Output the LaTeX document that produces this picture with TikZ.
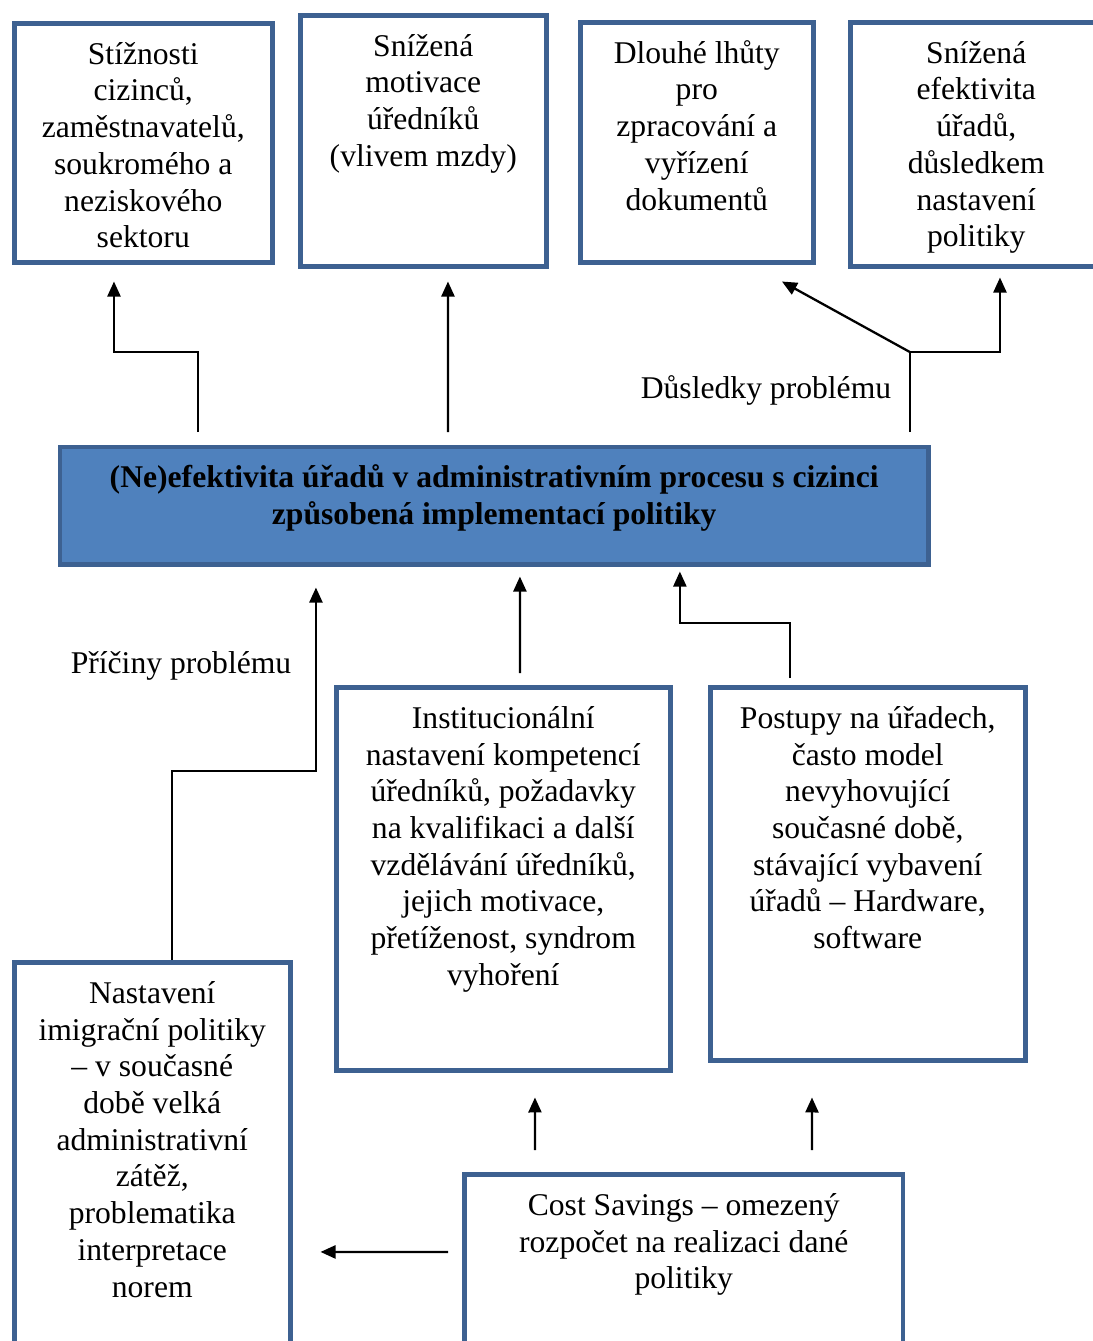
\documentclass[tikz,border=0pt]{standalone}
\usepackage{fontspec}
\setmainfont{Liberation Serif}
\usetikzlibrary{arrows.meta,positioning,calc}
\definecolor{boxline}{HTML}{3D6191}
\definecolor{corefill}{HTML}{4F81BD}
\newcommand{\boxtext}[3]{\parbox[c][#2][t]{#1}{\centering\rule{0pt}{0.82cm}#3}}
\tikzset{
  box/.style={rectangle,draw=boxline,line width=2.6pt,inner sep=0pt,anchor=north west,
    font=\fontsize{18pt}{20.9pt}\selectfont},
  corebox/.style={box,fill=corefill},
  lbl/.style={font=\fontsize{18pt}{20.9pt}\selectfont,inner sep=0pt},
  link/.style={line width=1.3pt},
  arrow/.style={link,-{Triangle[length=0.3cm,width=0.26cm]}},
}

\begin{document}
\begin{tikzpicture}[x=0.02cm,y=-0.02cm]
\useasboundingbox (0,0) rectangle (1092,1341);
% consequences
\node[box] (stiz) at (12,21) {\boxtext{5.16cm}{4.78cm}{Stížnosti\\cizinců,\\zaměstnavatelů,\\soukromého a\\neziskového\\sektoru}};
\node[box] (motiv) at (298,13) {\boxtext{4.92cm}{5.02cm}{Snížená\\motivace\\úředníků\\(vlivem mzdy)}};
\node[box] (lhuty) at (578,20) {\boxtext{4.66cm}{4.80cm}{Dlouhé lhůty\\pro\\zpracování a\\vyřízení\\dokumentů}};
\node[box] (efekt) at (848,20) {\boxtext{5.04cm}{4.88cm}{Snížená\\efektivita\\úřadů,\\důsledkem\\nastavení\\politiky}};
% the problem
\node[corebox] (ineff) at (57.5,444.5) {\boxtext{17.38cm}{2.36cm}{\bfseries (Ne)efektivita úřadů v administrativním procesu s cizinci\\způsobená implementací politiky}};
% causes
\node[box] (inst) at (334,685) {\boxtext{6.68cm}{7.66cm}{Institucionální\\nastavení kompetencí\\úředníků, požadavky\\na kvalifikaci a další\\vzdělávání úředníků,\\jejich motivace,\\přetíženost, syndrom\\vyhoření}};
\node[box] (post) at (708,685) {\boxtext{6.30cm}{7.46cm}{Postupy na úřadech,\\často model\\nevyhovující\\současné době,\\stávající vybavení\\úřadů – Hardware,\\software}};
\node[box] (nast) at (12,960) {\boxtext{5.52cm}{8.4cm}{Nastavení\\imigrační politiky\\– v současné\\době velká\\administrativní\\zátěž,\\problematika\\interpretace\\norem}};
\node[box] (cost) at (462,1172) {\boxtext{8.78cm}{4cm}{Cost Savings – omezený\\rozpočet na realizaci dané\\politiky}};

\node[lbl] (dusl) at (766,390) {Důsledky problému};
\node[lbl] (pric) at (181,666) {Příčiny problému};

% upward to consequences
\draw[arrow] ([shift={(2.81cm,0.25cm)}]ineff.north west) -- ++(0,1.6cm) -| ([shift={(2.04cm,-0.34cm)}]stiz.south west);
\draw[arrow] ([shift={(7.81cm,0.25cm)}]ineff.north west) -- ([shift={(3.0cm,-0.26cm)}]motiv.south west);
\coordinate (fork) at ([shift={(17.05cm,1.85cm)}]ineff.north west);
\draw[link] ([shift={(17.05cm,0.25cm)}]ineff.north west) -- (fork);
\draw[arrow] (fork) -- ([shift={(4.08cm,-0.34cm)}]lhuty.south west);
\draw[arrow] (fork) -| ([shift={(3.04cm,-0.18cm)}]efekt.south west);

% causes into the problem
\draw[arrow] ([xshift=3.2cm]nast.north west) -- ++(0,3.78cm) -| ([shift={(5.17cm,-0.41cm)}]ineff.south west);
\draw[arrow] ([shift={(3.72cm,0.24cm)}]inst.north west) -- ([shift={(9.25cm,-0.19cm)}]ineff.south west);
\draw[arrow] ([shift={(1.64cm,0.14cm)}]post.north west) -- ++(0,1.1cm) -| ([shift={(12.45cm,-0.09cm)}]ineff.south west);

% cost savings
\draw[arrow] ([shift={(1.46cm,0.44cm)}]cost.north west) -- ([shift={(4.02cm,-0.5cm)}]inst.south west);
\draw[arrow] ([shift={(7.0cm,0.44cm)}]cost.north west) -- ([shift={(2.08cm,-0.7cm)}]post.south west);
\draw[arrow] ([shift={(-0.28cm,-1.6cm)}]cost.north west) -- ([shift={(0.56cm,-5.84cm)}]nast.north east);
\end{tikzpicture}
\end{document}
